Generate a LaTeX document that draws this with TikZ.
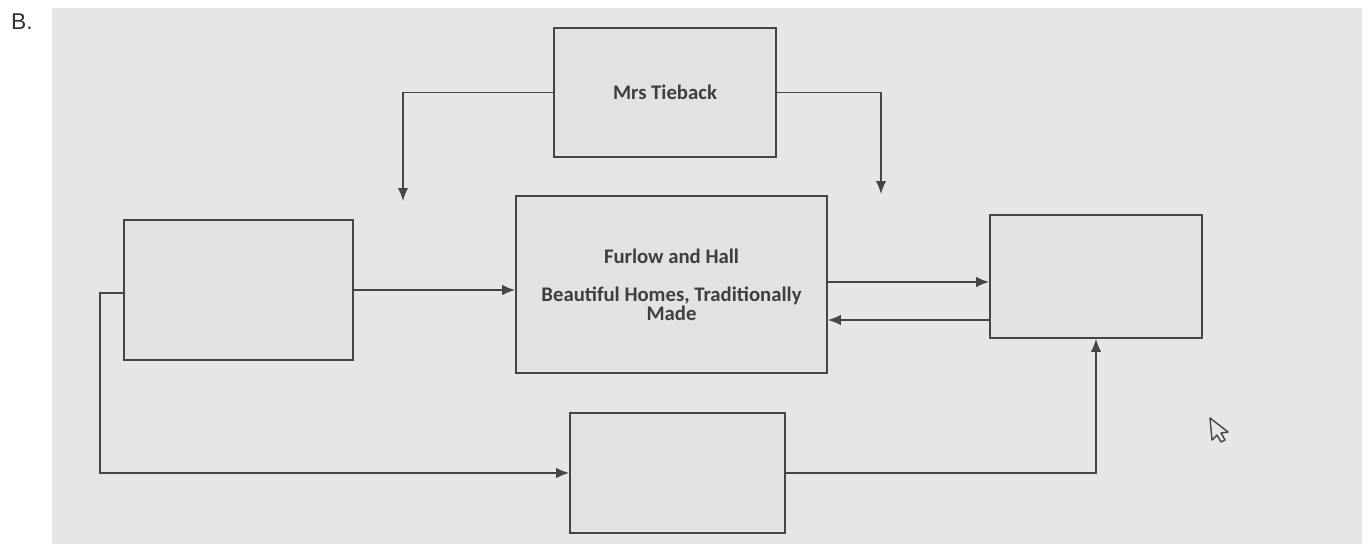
\documentclass[tikz,border=0pt]{standalone}
\usepackage{fontspec}
\setmainfont{Carlito}
\newfontfamily\labelfont{Liberation Sans}
\usetikzlibrary{arrows.meta,calc}
\definecolor{photo}{HTML}{E6E6E4}
\definecolor{boxfill}{HTML}{E2E2E0}
\definecolor{ink}{HTML}{454545}
\tikzset{
  box/.style={draw=ink, line width=1pt, fill=boxfill, inner sep=0pt, align=center,
    font=\fontsize{11.8}{10.5}\selectfont\bfseries, text=ink!90!black},
  conn/.style={draw=ink, line width=0.9pt},
  arr/.style={conn, -{Latex[length=2.6mm,width=2.1mm]}},
}
\begin{document}
\begin{tikzpicture}[x=0.02cm,y=-0.02cm]
\useasboundingbox (0,0) rectangle (1372,544);
\fill[white] (0,0) rectangle (1372,544);
\fill[photo] (52,8) rectangle (1362,544);
\node[font=\labelfont\fontsize{13}{15}\selectfont, text=black!80] (lbl) at (22,22) {B.};

\node[box, minimum width=4.44cm, minimum height=2.58cm] (mrs) at (665,92.5) {Mrs Tieback};
\node[box, minimum width=6.22cm, minimum height=3.54cm] (center) at (671.5,284.5)
  {Furlow and Hall\\[11.5pt]Beautiful Homes, Traditionally\\Made};
\node[box, minimum width=4.58cm, minimum height=2.8cm] (left) at (238.5,290) {};
\node[box, minimum width=4.24cm, minimum height=2.46cm] (right) at (1096,276.5) {};
\node[box, minimum width=4.3cm, minimum height=2.4cm] (bottom) at (677.5,473) {};

\coordinate (c1) at (403,201);
\coordinate (c2) at (881,194);
\coordinate (lo) at (100,293);

\draw[arr] (mrs.west) -| (c1);
\draw[arr] (mrs.east) -| (c2);
\draw[arr] (left.east) -- (center.west |- left.east);
\draw[arr] (center.east |- 0,282) -- (right.west |- 0,282);
\draw[arr] (right.west |- 0,320) -- (center.east |- 0,320);
\draw[arr] (left.west |- lo) -- (lo) |- (bottom.west);
\draw[arr] (bottom.east) -| (right.south);

% mouse pointer
\draw[ink, line width=0.8pt, fill=photo, line join=round]
  (1210,418) -- (1212,440) -- (1217,435) -- (1221,442) -- (1225,440) -- (1221,433) -- (1228,432) -- cycle;
\end{tikzpicture}
\end{document}
